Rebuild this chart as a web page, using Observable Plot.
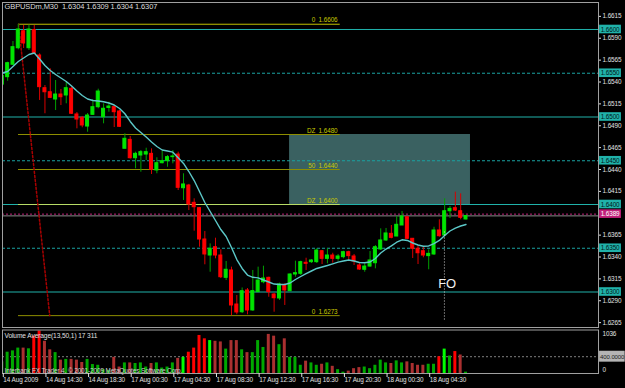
<!DOCTYPE html>
<html><head><meta charset="utf-8">
<script src="https://cdn.jsdelivr.net/npm/d3@7"></script>
<script src="https://cdn.jsdelivr.net/npm/@observablehq/plot@0.6"></script>
<style>
html,body{margin:0;padding:0;background:#000;}
#wrap{position:relative;width:625px;height:388px;background:#000;overflow:hidden;}
#wrap svg{position:absolute;left:0;display:block;}
#wrap svg text{letter-spacing:-0.1px;}
</style></head><body><div id="wrap"></div>
<script>
// ---------- data ----------
const symbolTitle = "GBPUSDm,M30\u00a0\u00a01.6304 1.6309 1.6304 1.6307";
const opens = [1.6537,1.65455,1.65597,1.65786,1.6598,1.65786,1.65994,1.65703,1.65329,1.65283,
1.652,1.65257,1.65246,1.65322,1.65029,1.64991,1.64891,1.65025,1.65112,1.64998,
1.65103,1.65112,1.65063,1.64637,1.64739,1.64529,1.6456,1.64571,1.64579,1.64389,
1.64472,1.64495,1.64541,1.64571,1.64186,1.64217,1.64019,1.63958,1.636,1.63417,
1.63512,1.63417,1.63162,1.63246,1.62857,1.62769,1.63017,1.62789,1.62998,1.63112,
1.63162,1.62971,1.62926,1.63074,1.63009,1.632,1.63208,1.63334,1.63341,1.63341,
1.63466,1.63379,1.63417,1.63379,1.63398,1.63455,1.63406,1.63303,1.63254,1.63291,
1.63329,1.63486,1.63589,1.63665,1.63634,1.6376,1.63855,1.63608,1.63494,1.63466,
1.6341,1.63429,1.63703,1.63646,1.63923,1.63958,1.63923,1.63829];
const highs = [1.65494,1.65626,1.65863,1.6606,1.66046,1.6605,1.66046,1.65722,1.6536,1.65551,
1.65417,1.65314,1.65398,1.6534,1.65051,1.65006,1.6504,1.65197,1.65318,1.65151,
1.65169,1.65131,1.65074,1.64808,1.64777,1.64598,1.64617,1.64643,1.64636,1.64534,
1.64609,1.6456,1.64617,1.64598,1.64351,1.6423,1.64065,1.63962,1.63691,1.6355,
1.63615,1.63482,1.63349,1.63284,1.6296,1.63046,1.6304,1.63246,1.63284,1.63295,
1.63169,1.62986,1.63101,1.63094,1.63208,1.63352,1.63352,1.63386,1.63371,1.63494,
1.63474,1.63494,1.63443,1.63429,1.63466,1.63466,1.63429,1.63326,1.63322,1.63463,
1.63531,1.63722,1.63726,1.6376,1.63863,1.6392,1.63863,1.63611,1.63531,1.6352,
1.63482,1.6374,1.63825,1.64065,1.63977,1.64141,1.64122,1.63874];
const lows = [1.65341,1.65409,1.65589,1.65768,1.65783,1.6576,1.65714,1.65189,1.65037,1.65211,
1.65074,1.65131,1.65151,1.65029,1.64865,1.64877,1.64826,1.65017,1.65094,1.64922,
1.65055,1.6488,1.6488,1.64637,1.6452,1.64408,1.64369,1.64503,1.64343,1.64351,
1.64465,1.64426,1.64465,1.6416,1.64046,1.63931,1.63695,1.63512,1.63311,1.63226,
1.63379,1.63154,1.63131,1.6273,1.6274,1.62754,1.6274,1.6278,1.62994,1.63094,
1.6294,1.62769,1.62903,1.62846,1.63006,1.63169,1.63189,1.63246,1.63326,1.63326,
1.63314,1.63322,1.63329,1.63352,1.63379,1.6336,1.63303,1.63246,1.63226,1.63283,
1.63265,1.63474,1.63577,1.63608,1.63634,1.6376,1.636,1.63383,1.63314,1.63391,
1.63254,1.63417,1.63626,1.6364,1.6384,1.6392,1.63825,1.63823];
const closes = [1.6547,1.65615,1.65798,1.66,1.6584,1.66,1.65722,1.65341,1.65283,1.65219,
1.65257,1.65226,1.65329,1.65037,1.64971,1.64903,1.65017,1.65112,1.65291,1.65094,
1.6512,1.65055,1.64888,1.64751,1.64529,1.64579,1.64598,1.64598,1.64397,1.64472,
1.64495,1.64541,1.64549,1.64191,1.64229,1.64,1.63969,1.636,1.63429,1.63494,
1.63417,1.63169,1.63254,1.62846,1.62766,1.63009,1.62789,1.6301,1.63131,1.63154,
1.62998,1.62929,1.63086,1.63017,1.632,1.63215,1.63341,1.63322,1.6336,1.63474,
1.63379,1.63417,1.63379,1.63406,1.63455,1.6341,1.63349,1.63257,1.63291,1.6336,
1.63512,1.63589,1.63669,1.63619,1.63768,1.63863,1.63608,1.63494,1.63443,1.63417,
1.63436,1.63703,1.63638,1.63923,1.6395,1.63931,1.63848,1.63869];
const maValues = [1.65503,1.6552,1.65577,1.65634,1.65674,1.65714,1.65731,1.65663,1.65589,1.65531,
1.65486,1.65446,1.65406,1.65354,1.65297,1.65246,1.65206,1.65189,1.65183,1.65174,
1.6516,1.65137,1.65097,1.65037,1.64949,1.64874,1.64823,1.64771,1.64714,1.64663,
1.64623,1.64611,1.64598,1.64534,1.64469,1.64377,1.64274,1.64149,1.64023,1.6392,
1.63817,1.63714,1.63634,1.63509,1.63371,1.63269,1.63194,1.63168,1.63162,1.63137,
1.63114,1.63091,1.63086,1.63086,1.63103,1.63143,1.63177,1.63211,1.6324,1.63269,
1.63286,1.63303,1.63322,1.63341,1.63354,1.63366,1.63354,1.63337,1.63334,1.63343,
1.63383,1.63446,1.63491,1.63528,1.63569,1.63597,1.63589,1.6356,1.63537,1.63523,
1.63526,1.63554,1.63589,1.63646,1.63697,1.63731,1.63754,1.63771];
const volumes = [277,507,539,605,605,588,889,1012,767,564,
497,318,336,336,318,262,336,213,196,91,
74,385,154,252,252,238,252,154,238,252,
130,154,252,360,385,507,605,906,826,784,
767,752,581,784,784,564,497,497,784,620,
931,889,686,826,385,385,196,294,252,196,
220,252,171,91,32,56,115,140,154,115,
196,318,252,238,301,252,277,238,196,196,
220,220,399,581,416,522,441,32];
const volumeKinds = ("GGGGDGRRDD"+"GDGDDDGGGG"+"GDDGDGGGDG"+"GGGDLRRRRL"+"DDGDDGDGGG"+
  "DDGDGGGDGG"+"DGDGGDDDGG"+"GGGDGGDDDD"+"GGRLGRDG").split("");
const timeTicks = [0,8,16,24,32,40,48,56,64,72,80];
const timeLabels = ["14 Aug 2009","14 Aug 14:30","14 Aug 18:30","17 Aug 00:30","17 Aug 04:30",
  "17 Aug 08:30","17 Aug 12:30","17 Aug 16:30","17 Aug 20:30","18 Aug 00:30","18 Aug 04:30"];
const priceTicks = [1.6615,1.6590,1.6565,1.6540,1.6515,1.6490,1.6465,1.6440,1.6415,1.6365,1.6340,1.6315,1.6290,1.6265];
const solidLevels = [1.6600,1.6500,1.6400,1.6300];
const dashedLevels = [1.6550,1.6450,1.6350];
const alertPrice = 1.6389;
const bidPrice = 1.6387;
const fibNames = ["0","DZ","50","DZ","0"];
const fibPrices = [1.6606,1.6480,1.6440,1.6400,1.6273];
const fibStartIndex = 3.04, fibEndIndex = 63.4, fibLabelIndex = 62.9;
const fibAnchorIndex = [3.05, 8.9];
const fibAnchorPrice = [1.6606, 1.6273];
const zoneIndex = [53.9, 87.84];
const zonePrice = [1.6400, 1.6480];
const foIndex = 82.95, foTextIndex = 81.8, foTextPrice = 1.63097;
const foLinePrice = [1.6268, 1.6370];
const volumeTitle = "Volume Average(13,50,1) 17 311";
const copyright = "Interbank FX Trader 4, \u00a9 2001-2009 MetaQuotes Software Corp.";
const volumeMax = 1036, volumeLevel = 400;

// ---------- chart ----------
const FONT = "'Liberation Sans',Arial,sans-serif";
const FS = 6.4;
const xDom = [0.0375, 111.86];
const bars = opens.map((o, i) => ({i, o, h: highs[i], l: lows[i], c: closes[i], up: closes[i] >= o}));
const fibs = fibNames.map((n, k) => ({name: n, p: fibPrices[k]}));
const anchors = fibAnchorIndex.map((i, k) => ({i, p: fibAnchorPrice[k]}));
const boxed = solidLevels.concat(dashedLevels);
const boxH = 4.3 / 8750;
const styleBase = {background: "transparent", fontFamily: FONT, fontSize: FS + "px", color: "#e0e0e0", overflow: "visible"};

const main = Plot.plot({
  width: 625, height: 328,
  marginLeft: 2, marginRight: 27, marginTop: 2, marginBottom: 1,
  x: {domain: xDom, axis: null},
  y: {domain: [1.6259429, 1.6630857], axis: null},
  style: styleBase,
  marks: [
    Plot.rect([0], {x1: () => zoneIndex[0], x2: () => zoneIndex[1], y1: () => zonePrice[0], y2: () => zonePrice[1], fill: "#3a6161"}),
    Plot.ruleY(solidLevels, {stroke: "#20b2aa"}),
    Plot.ruleY(dashedLevels, {stroke: "#1aa2a2", strokeDasharray: "3,2"}),
    Plot.ruleY([bidPrice], {stroke: "#8a8a8a"}),
    Plot.ruleY([alertPrice], {stroke: "#c0207a", strokeDasharray: "2,2"}),
    Plot.ruleY(fibs, {y: "p", x1: () => fibStartIndex, x2: () => fibEndIndex,
      stroke: d => d.p === 1.64 ? "#b8dc66" : (d.p === 1.6606 ? "#c0c000" : "#8e8e00")}),
    Plot.text(fibs, {x: () => fibLabelIndex, y: "p", text: d => d.name + "\u00a0\u00a0" + d.p.toFixed(4),
      textAnchor: "end", dy: -4, fill: "#c8c800", fontSize: FS}),
    Plot.line(anchors, {x: "i", y: "p", stroke: "#a80000", strokeDasharray: "2,2"}),
    Plot.ruleX(bars, {x: "i", y1: "l", y2: "h", stroke: d => d.up ? "#00a000" : "#d80000", clip: true}),
    Plot.rect(bars, {x1: d => d.i - 0.28, x2: d => d.i + 0.28, y1: "o", y2: "c",
      fill: d => d.up ? "#00e400" : "#ff0000", stroke: d => d.up ? "#00e400" : "#ff0000", clip: true}),
    Plot.line(maValues, {x: (d, i) => i, y: d => d, stroke: "#5cc8c8", strokeWidth: 1.4, clip: true}),
    Plot.ruleX([foIndex], {y1: () => foLinePrice[0], y2: () => foLinePrice[1], stroke: "#d0d0d0", strokeDasharray: "1,2"}),
    Plot.text(["FO"], {x: () => foTextIndex, y: () => foTextPrice, textAnchor: "start", fontSize: 13, fill: "#f2f2f2"}),
    Plot.frame({stroke: "#a0a0a0"}),
    Plot.axisY(priceTicks, {anchor: "right", tickSize: 2, tickPadding: 2, tickFormat: d => d.toFixed(4), color: "#e0e0e0", fontSize: FS}),
    Plot.rect(boxed, {x1: () => xDom[1] + 0.2, x2: () => xDom[1] + 4.3, y1: d => d - boxH, y2: d => d + boxH, fill: "#20b2aa"}),
    Plot.text(boxed, {x: () => xDom[1] + 0.4, y: d => d, text: d => d.toFixed(4), textAnchor: "start", fill: "#001818", fontSize: FS}),
    Plot.rect([alertPrice], {x1: () => xDom[1] + 0.2, x2: () => xDom[1] + 4.3, y1: d => d - boxH, y2: d => d + boxH, fill: "#c0207a"}),
    Plot.text([alertPrice], {x: () => xDom[1] + 0.4, y: d => d, text: d => d.toFixed(4), textAnchor: "start", fill: "#ffffff", fontSize: FS}),
    Plot.text([symbolTitle], {frameAnchor: "top-left", dx: 2, dy: 1, fill: "#dcdcdc", fontSize: 7.5, lineAnchor: "top"})
  ]
});

const vbars = volumes.map((v, i) => ({i, v, k: volumeKinds[i]}));
const vColor = {G: "#00a800", L: "#00ff00", R: "#ff0000", D: "#aa3030"};
const vol = Plot.plot({
  width: 625, height: 61,
  marginLeft: 2, marginRight: 27, marginTop: 2.5, marginBottom: 15,
  x: {domain: xDom, axis: null},
  y: {domain: [0, volumeMax], axis: null},
  style: styleBase,
  marks: [
    Plot.ruleY([volumeLevel], {stroke: "#808080", strokeDasharray: "2,2"}),
    Plot.rectY(vbars, {x1: d => d.i - 0.28, x2: d => d.i + 0.28, y1: 0, y2: "v", fill: d => vColor[d.k], clip: true}),
    Plot.frame({stroke: "#a0a0a0"}),
    Plot.text([volumeTitle], {frameAnchor: "top-left", dx: 2, dy: 3, fill: "#e0e0e0", fontSize: FS + 0.2, lineAnchor: "top"}),
    Plot.text([copyright], {frameAnchor: "bottom-left", dx: 2, dy: -1, fill: "#d0d0d0", fontSize: FS, lineAnchor: "bottom"}),
    Plot.axisX(timeTicks, {anchor: "bottom", tickSize: 4, tickPadding: 0, textAnchor: "start", dx: 1,
      tickFormat: d => timeLabels[timeTicks.indexOf(d)], color: "#e0e0e0", fontSize: FS}),
    Plot.text([volumeMax], {x: () => xDom[1], y: d => d, dx: 4, dy: 4, text: d => String(d), textAnchor: "start", fill: "#e0e0e0", fontSize: FS}),
    Plot.text([0], {x: () => xDom[1], y: d => d, dx: 4, dy: -4, text: d => String(d), textAnchor: "start", fill: "#e0e0e0", fontSize: FS}),
    Plot.rect([volumeLevel], {x1: () => xDom[1] + 0.2, x2: () => xDom[1] + 5, y1: d => d - 130, y2: d => d + 130, fill: "#b4b4b4"}),
    Plot.text([volumeLevel], {x: () => xDom[1] + 0.3, y: d => d, text: d => d.toFixed(4), textAnchor: "start", fill: "#202020", fontSize: FS - 0.4})
  ]
});

const wrap = document.getElementById("wrap");
main.style.top = "0px";
vol.style.top = "327px";
wrap.appendChild(main);
wrap.appendChild(vol);
</script>
</body></html>
